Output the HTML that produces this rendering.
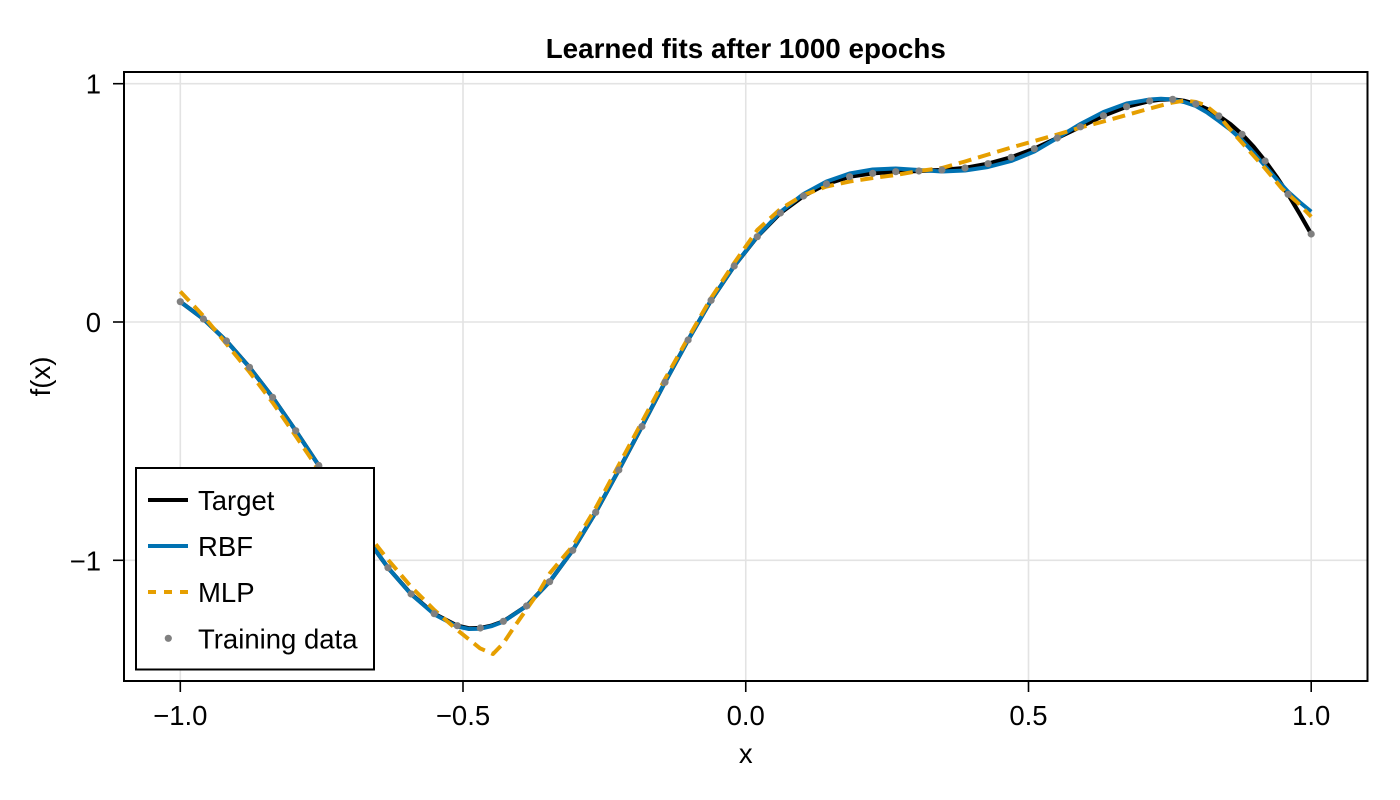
<!DOCTYPE html>
<html>
<head>
<meta charset="utf-8">
<style>
  html,body{margin:0;padding:0;background:#fff;}
  svg{display:block;}
  text{font-family:"Liberation Sans", Arial, sans-serif;fill:#000;}
</style>
</head>
<body>
<svg width="1400" height="800" viewBox="0 0 1400 800" xmlns="http://www.w3.org/2000/svg">
  <rect x="0" y="0" width="1400" height="800" fill="#fff"/>

  <!-- grid -->
  <g stroke="#e3e3e3" stroke-width="1.6">
    <line x1="180.3" y1="72" x2="180.3" y2="681"/>
    <line x1="463" y1="72" x2="463" y2="681"/>
    <line x1="745.75" y1="72" x2="745.75" y2="681"/>
    <line x1="1028.5" y1="72" x2="1028.5" y2="681"/>
    <line x1="1311.2" y1="72" x2="1311.2" y2="681"/>
    <line x1="124" y1="83.7" x2="1367.5" y2="83.7"/>
    <line x1="124" y1="322" x2="1367.5" y2="322"/>
    <line x1="124" y1="560.3" x2="1367.5" y2="560.3"/>
  </g>

  <!-- Target -->
  <polyline fill="none" stroke="#000" stroke-width="4.2" stroke-linejoin="round" stroke-linecap="butt"
    points="180.3,301.7 203.4,319 226.5,341 249.5,367.3 272.6,397.3 295.7,430.7 318.8,465.5 341.9,501 364.9,535.5 388,567.7 411.1,594 434.2,613.7 457.3,625.7 469,628.3 480.3,628 492,625.5 503.4,621.3 526.5,606 549.6,581.7 572.7,550.3 595.7,512.3 618.8,470 641.9,426.5 665,382.3 688.1,340 711.1,300.3 734.2,266 757.3,236.7 780.4,213 803.5,196 826.5,184 849.6,176.7 872.7,173.3 895.8,171.7 918.9,171 941.9,170 965,168 988.1,163.7 1011.2,157.3 1034.3,148.7 1057.3,138 1080.4,126.8 1103.5,115.7 1126.6,106.7 1149.7,101 1161,99.6 1172.7,99.3 1184,100.8 1195.8,104 1207.4,109.2 1218.9,116 1230.5,124.2 1242,134.3 1253.6,146.7 1265.1,161 1276.6,176.8 1288.1,194.3 1299.7,213.8 1311.2,234"/>

  <!-- RBF -->
  <polyline fill="none" stroke="#0072b2" stroke-width="4" stroke-linejoin="round" stroke-linecap="butt"
    points="180.3,301.7 203.4,319 226.5,341 249.5,367.3 272.6,397.3 295.7,430.7 318.8,465.5 341.9,501 364.9,535.5 388,567.7 411.1,594.3 434.2,614.3 457.3,626.5 469,629 480.3,628.7 492,626 503.4,621.6 526.5,606 549.6,581.7 572.7,550.3 595.7,512.3 618.8,470 641.9,426.5 665,382.3 688.1,340 711.1,300.3 734.2,266 757.3,236.5 780.4,212 803.5,194 826.5,181.5 849.6,173.5 872.7,169.5 895.8,168.5 918.9,170 941.9,171.5 965,170.5 988.1,167 1011.2,161 1034.3,151.5 1057.3,138 1080.4,124 1103.5,112 1126.6,103.5 1149.7,99.5 1161,98.8 1172.7,99.5 1184,102 1195.8,106 1207.4,112.7 1218.9,121 1230.5,129.8 1242,140 1253.6,152.6 1265.1,166 1276.6,179.2 1288.1,191.7 1299.7,202.1 1311.2,211.7"/>

  <!-- MLP -->
  <polyline fill="none" stroke="#e69f00" stroke-width="4" stroke-linejoin="round" stroke-linecap="butt" stroke-dasharray="13 7"
    points="180.3,291.5 203.4,316 226.5,344 249.5,372 272.6,402.5 295.7,436 318.8,470 341.9,503 364.9,532 375,543.3 388.3,560 411,586.7 434.3,610 457.3,630 480,648.3 493,654 503.3,643.3 513.3,628.3 526,610 540,590 550,573 572.7,546 595.7,508 618.8,465 641.9,422 665,379 688.1,338 711.1,298 734.2,263 757.3,230 780.4,209 803.5,195 826.5,186.5 849.6,181.5 872.7,178 895.8,175 918.9,171 941.9,168 965,161.5 988.1,154.5 1011.2,147.5 1034.3,141 1057.3,134.5 1080.4,127.5 1103.5,121.5 1126.6,115 1149.7,108.5 1172.7,102.5 1185,100.5 1196,102 1205,105 1218.9,116 1233.3,133 1250,151.7 1265,168.3 1281.7,188.3 1298.3,203.3 1311.2,216.7"/>

  <!-- Training data -->
  <g fill="#808080">
    <circle cx="180.3" cy="301.7" r="3.6"/><circle cx="203.4" cy="319" r="3.6"/><circle cx="226.5" cy="341" r="3.6"/>
    <circle cx="249.5" cy="367.3" r="3.6"/><circle cx="272.6" cy="397.3" r="3.6"/><circle cx="295.7" cy="430.7" r="3.6"/>
    <circle cx="318.8" cy="465.5" r="3.6"/><circle cx="341.9" cy="501" r="3.6"/><circle cx="364.9" cy="535.5" r="3.6"/>
    <circle cx="388" cy="567.7" r="3.6"/><circle cx="411.1" cy="594" r="3.6"/><circle cx="434.2" cy="613.7" r="3.6"/>
    <circle cx="457.3" cy="625.7" r="3.6"/><circle cx="480.3" cy="628" r="3.6"/><circle cx="503.4" cy="621.3" r="3.6"/>
    <circle cx="526.5" cy="606" r="3.6"/><circle cx="549.6" cy="581.7" r="3.6"/><circle cx="572.7" cy="550.3" r="3.6"/>
    <circle cx="595.7" cy="512.3" r="3.6"/><circle cx="618.8" cy="470" r="3.6"/><circle cx="641.9" cy="426.5" r="3.6"/>
    <circle cx="665" cy="382.3" r="3.6"/><circle cx="688.1" cy="340" r="3.6"/><circle cx="711.1" cy="300.3" r="3.6"/>
    <circle cx="734.2" cy="266" r="3.6"/><circle cx="757.3" cy="236.7" r="3.6"/><circle cx="780.4" cy="213" r="3.6"/>
    <circle cx="803.5" cy="196" r="3.6"/><circle cx="826.5" cy="184" r="3.6"/><circle cx="849.6" cy="176.7" r="3.6"/>
    <circle cx="872.7" cy="173.3" r="3.6"/><circle cx="895.8" cy="171.7" r="3.6"/><circle cx="918.9" cy="171" r="3.6"/>
    <circle cx="941.9" cy="170" r="3.6"/><circle cx="965" cy="168" r="3.6"/><circle cx="988.1" cy="163.7" r="3.6"/>
    <circle cx="1011.2" cy="157.3" r="3.6"/><circle cx="1034.3" cy="148.7" r="3.6"/><circle cx="1057.3" cy="138" r="3.6"/>
    <circle cx="1080.4" cy="126.8" r="3.6"/><circle cx="1103.5" cy="115.7" r="3.6"/><circle cx="1126.6" cy="106.7" r="3.6"/>
    <circle cx="1149.7" cy="101" r="3.6"/><circle cx="1172.7" cy="99.3" r="3.6"/><circle cx="1195.8" cy="104" r="3.6"/>
    <circle cx="1218.9" cy="116" r="3.6"/><circle cx="1242" cy="134.3" r="3.6"/><circle cx="1265.1" cy="161" r="3.6"/>
    <circle cx="1288.1" cy="194.3" r="3.6"/><circle cx="1311.2" cy="234" r="3.6"/>
  </g>

  <!-- frame -->
  <rect x="124" y="72" width="1243.5" height="609" fill="none" stroke="#000" stroke-width="2"/>

  <!-- ticks -->
  <g stroke="#000" stroke-width="1.6">
    <line x1="180.3" y1="682" x2="180.3" y2="692"/>
    <line x1="463" y1="682" x2="463" y2="692"/>
    <line x1="745.75" y1="682" x2="745.75" y2="692"/>
    <line x1="1028.5" y1="682" x2="1028.5" y2="692"/>
    <line x1="1311.2" y1="682" x2="1311.2" y2="692"/>
    <line x1="113" y1="83.7" x2="123" y2="83.7"/>
    <line x1="113" y1="322" x2="123" y2="322"/>
    <line x1="113" y1="560.3" x2="123" y2="560.3"/>
  </g>

  <!-- tick labels -->
  <g font-size="27.5" text-anchor="middle">
    <text x="180.3" y="725">−1.0</text>
    <text x="463" y="725">−0.5</text>
    <text x="745.75" y="725">0.0</text>
    <text x="1028.5" y="725">0.5</text>
    <text x="1311.2" y="725">1.0</text>
  </g>
  <g font-size="27.5" text-anchor="end">
    <text x="101" y="93.7">1</text>
    <text x="101" y="332">0</text>
    <text x="101" y="570.3">−1</text>
  </g>

  <!-- axis labels -->
  <text x="745.75" y="763" font-size="27.5" text-anchor="middle">x</text>
  <text x="0" y="0" font-size="27.5" text-anchor="middle" transform="translate(50,376.5) rotate(-90)">f(x)</text>

  <!-- title -->
  <text x="745.75" y="58" font-size="27.8" font-weight="bold" text-anchor="middle">Learned fits after 1000 epochs</text>

  <!-- legend -->
  <rect x="136" y="468" width="238" height="201.5" fill="#fff" stroke="#000" stroke-width="2"/>
  <line x1="148" y1="500" x2="188" y2="500" stroke="#000" stroke-width="4"/>
  <line x1="148" y1="546" x2="188" y2="546" stroke="#0072b2" stroke-width="4"/>
  <line x1="148" y1="592" x2="188" y2="592" stroke="#e69f00" stroke-width="4" stroke-dasharray="8 8"/>
  <circle cx="168.3" cy="638.3" r="3.6" fill="#808080"/>
  <g font-size="27.5">
    <text x="198" y="510">Target</text>
    <text x="198" y="556">RBF</text>
    <text x="198" y="602">MLP</text>
    <text x="198" y="648.3">Training data</text>
  </g>
</svg>
</body>
</html>
